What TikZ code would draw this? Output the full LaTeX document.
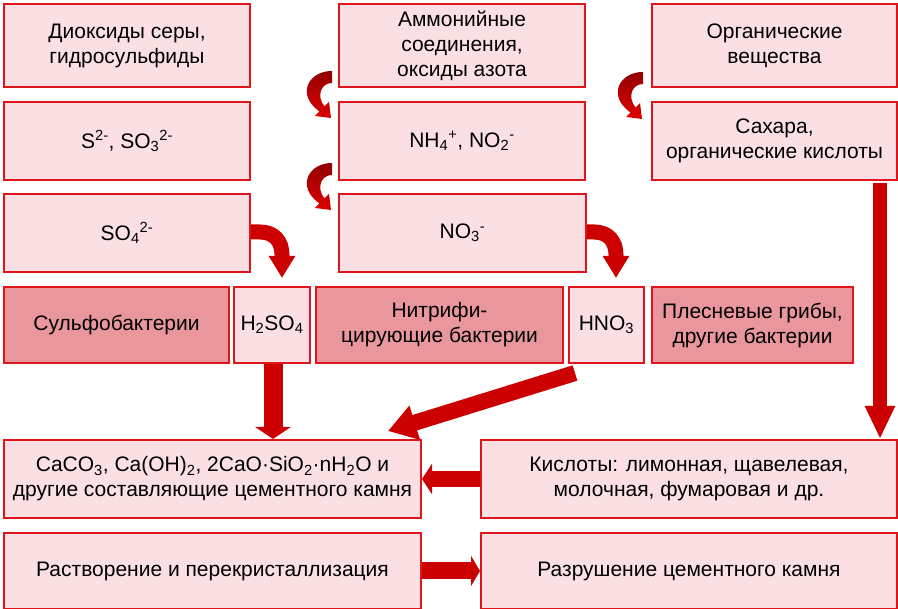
\documentclass[tikz,border=0pt]{standalone}
\usepackage{fontspec}
\setmainfont{Liberation Sans}
\usetikzlibrary{arrows.meta,calc}
\definecolor{lfill}{HTML}{FBE0E3}
\definecolor{dfill}{HTML}{E9979D}
\definecolor{bord}{HTML}{E0141B}
\definecolor{arr}{HTML}{CC0000}
\definecolor{arrdark}{HTML}{920000}
\definecolor{arrbright}{HTML}{E00000}
\newcommand{\mycurv}[1]{%
  \begin{scope}[shift={#1}]
    \shade[top color=arrdark, bottom color=arrbright]
      (0,0) .. controls (-24,0) and (-36,24) .. (-12.5,40.5)
      -- (-17,45) -- (-1,47) -- (-3,31) -- (-7.5,35.5)
      .. controls (-16,25) and (-11,12) .. (0,12) -- cycle;
  \end{scope}}
\begin{document}
\begin{tikzpicture}[x=1pt,y=-1pt,
  box/.style={draw=bord, line width=2pt, anchor=north west, inner sep=0pt,
    align=center, font=\fontsize{21}{25}\selectfont},
  lbox/.style={box, fill=lfill},
  dbox/.style={box, fill=dfill},
  blk/.style={draw=arr, line width=#1},
]
\useasboundingbox (0,0) rectangle (898,609);
% row 1
\node[lbox, minimum width=246pt, minimum height=83pt] (a1) at (3,3) {Диоксиды серы,\\гидросульфиды};
\node[lbox, minimum width=246pt, minimum height=83pt] (a2) at (338,3) {Аммонийные\\соединения,\\оксиды азота};
\node[lbox, minimum width=245pt, minimum height=83pt] (a3) at (651,3) {Органические\\вещества};
% row 2
\node[lbox, minimum width=246pt, minimum height=78pt] (b1) at (3,101) {S\textsuperscript{2-}, SO\textsubscript{3}\textsuperscript{2-}};
\node[lbox, minimum width=246pt, minimum height=78pt] (b2) at (338,101) {NH\textsubscript{4}\textsuperscript{+}, NO\textsubscript{2}\textsuperscript{-}};
\node[lbox, minimum width=245pt, minimum height=78pt] (b3) at (651,101) {Сахара,\\органические кислоты};
% row 3
\node[lbox, minimum width=246pt, minimum height=78pt] (c1) at (3,193) {SO\textsubscript{4}\textsuperscript{2-}};
\node[lbox, minimum width=247pt, minimum height=78pt] (c2) at (338,193) {NO\textsubscript{3}\textsuperscript{-}};
% row 4
\node[dbox, minimum width=225pt, minimum height=76pt] (d1) at (3,286) {Сульфобактерии};
\node[lbox, minimum width=76pt, minimum height=76pt] (d2) at (233,286) {H\textsubscript{2}SO\textsubscript{4}};
\node[dbox, minimum width=247pt, minimum height=76pt] (d3) at (315,286) {Нитрифи-\\цирующие бактерии};
\node[lbox, minimum width=75pt, minimum height=76pt] (d4) at (568,286) {HNO\textsubscript{3}};
\node[dbox, minimum width=201pt, minimum height=76pt] (d5) at (651,286) {Плесневые грибы,\\другие бактерии};
% row 5
\node[lbox, minimum width=417pt, minimum height=78pt] (e1) at (3,439) {CaCO\textsubscript{3}, Ca(OH)\textsubscript{2}, 2CaO·SiO\textsubscript{2}·nH\textsubscript{2}O и\\другие составляющие цементного камня};
\node[lbox, minimum width=416pt, minimum height=78pt] (e2) at (480,439) {Кислоты: лимонная, щавелевая,\\молочная, фумаровая и др.};
% row 6
\node[lbox, minimum width=417pt, minimum height=76pt] (f1) at (3,532) {Растворение и перекристаллизация};
\node[lbox, minimum width=416pt, minimum height=76pt] (f2) at (480,532) {Разрушение цементного камня};
% coordinates for free arrow ends
\coordinate (hs) at (575,373);
\coordinate (ht) at (388,431);
\coordinate (rs) at (880,183);
\coordinate (so) at (282,278);
\coordinate (no) at (616,278);
% block arrows
\draw[blk=19pt, -{Triangle[width=35pt,length=12pt]}] ([xshift=1pt]d2.south) -- ([xshift=1pt]d2.south |- e1.north);
\draw[blk=16pt, -{Triangle[width=34pt,length=28pt]}] (hs) -- (ht);
\draw[blk=16pt, -{Triangle[width=30pt,length=10pt]}] (e2.west) -- (e1.east);
\draw[blk=17pt, -{Triangle[width=30pt,length=9pt]}] (f1.east) -- (f2.west);
\draw[blk=14pt, -{Triangle[width=28pt,length=33pt]}] (rs) -- (rs |- e2.north);
\draw[blk=15pt, -{Triangle[width=25pt,length=22pt]}] ([yshift=1pt]c1.east) -- ++(9,0) .. controls +(14,0) and +(0,-14) .. ($(so)+(0,-23)$) -- (so);
\draw[blk=15pt, -{Triangle[width=25pt,length=22pt]}] ([yshift=1pt]c2.east) -- ++(7,0) .. controls +(14,0) and +(0,-14) .. ($(no)+(0,-23)$) -- (no);
% curved small arrows
\mycurv{(332,71)}
\mycurv{(332,163)}
\mycurv{(643,72)}
\end{tikzpicture}
\end{document}
